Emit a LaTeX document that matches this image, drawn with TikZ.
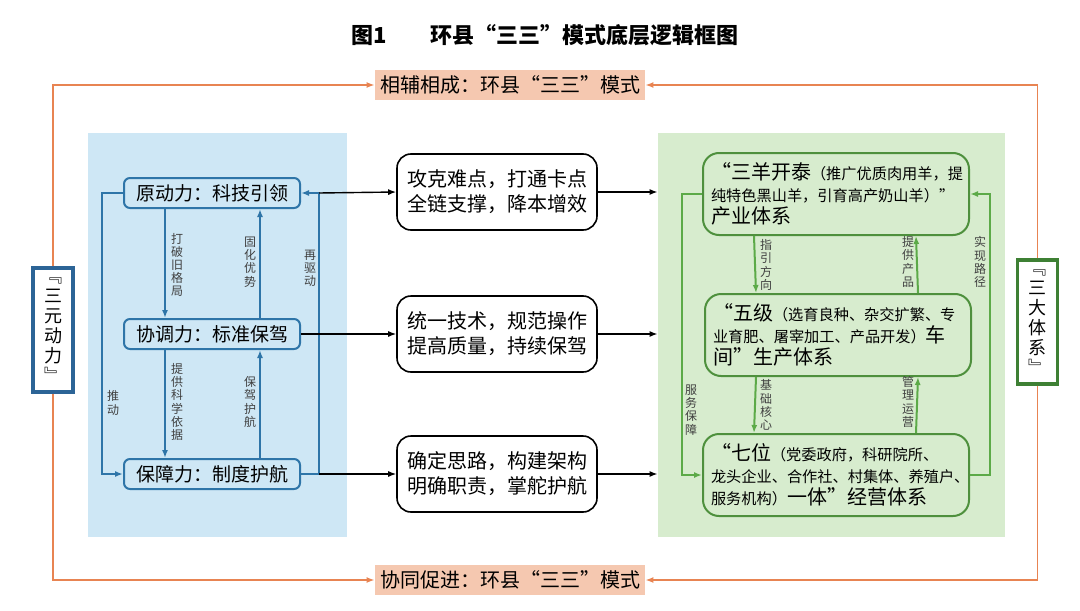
\documentclass[tikz,border=0pt]{standalone}
\usepackage{fontspec}
\setmainfont{Noto Sans CJK SC}
\usetikzlibrary{arrows.meta}

\definecolor{panelblue}{RGB}{206,231,245}
\definecolor{lineblue}{RGB}{46,117,168}
\definecolor{darkblue}{RGB}{44,100,150}
\definecolor{panelgreen}{RGB}{215,236,206}
\definecolor{linegreen}{RGB}{92,170,72}
\definecolor{darkgreen}{RGB}{62,128,52}
\definecolor{lineorange}{RGB}{232,132,82}
\definecolor{fillorange}{RGB}{245,200,176}

\tikzset{
  panel/.style={draw=none, inner sep=0pt},
  bluebox/.style={draw=lineblue, line width=1pt, rounded corners=3pt, fill=panelblue,
    minimum width=88pt, minimum height=15pt, inner sep=1pt, font=\fontsize{9.5}{11}\selectfont},
  midbox/.style={draw=black, line width=0.8pt, rounded corners=7pt, fill=white,
    minimum width=100pt, minimum height=38pt, align=center, font=\fontsize{10}{12.5}\selectfont},
  greenbox/.style={draw=linegreen!85!black, line width=1pt, rounded corners=8pt,
    text width=125pt, inner sep=4pt, minimum height=41pt, align=left,
    font=\fontsize{10}{11}\selectfont},
  tagbox/.style={fill=fillorange, minimum width=135pt, minimum height=15pt, inner sep=1pt,
    font=\fontsize{10}{12}\selectfont},
  sidebox/.style={fill=white, line width=1.6pt, minimum width=20pt, minimum height=62pt,
    inner sep=1pt, align=center, font=\fontsize{9}{10}\selectfont},
  vlabel/.style={inner sep=1pt, align=center, text=black!75, font=\fontsize{6}{6.6}\selectfont},
  bluearrow/.style={draw=lineblue, line width=1pt, -{Latex[length=4pt,width=3pt]}},
  greenarrow/.style={draw=linegreen, line width=1pt, -{Latex[length=4pt,width=3pt]}},
  blackarrow/.style={draw=black, line width=0.7pt, -{Latex[length=4pt,width=3pt]}},
  orangeline/.style={draw=lineorange, line width=0.9pt, -{Latex[length=4pt,width=3pt]}},
}
\newcommand{\sm}[1]{{\fontsize{7.6}{11}\selectfont #1}}

\begin{document}
\begin{tikzpicture}[x=0.5pt,y=-0.5pt]
  \useasboundingbox (0,0) rectangle (1080,610);

  % title
  \node[font=\fontsize{11}{13}\selectfont\bfseries] (title) at (545,35) {图1\quad\quad 环县“三三”模式底层逻辑框图};

  % panels
  \node[panel, fill=panelblue, minimum width=129.5pt, minimum height=202pt] (bluepanel) at (217.5,335) {};
  \node[panel, fill=panelgreen, minimum width=173.5pt, minimum height=202pt] (greenpanel) at (831.5,335) {};

  % orange frame
  \node[tagbox] (topbox) at (510,85) {相辅相成：环县“三三”模式};
  \node[tagbox] (bottombox) at (510,580) {协同促进：环县“三三”模式};
  \node[sidebox, draw=darkblue] (leftbox) at (53,330) {﹃\\三\\元\\动\\力\\﹄};
  \node[sidebox, draw=darkgreen] (rightbox) at (1037.5,322) {﹃\\三\\大\\体\\系\\﹄};

  \draw[orangeline] (leftbox.north) |- (topbox.west);
  \draw[orangeline] (rightbox.north) |- (topbox.east);
  \draw[orangeline] (leftbox.south) |- (bottombox.west);
  \draw[orangeline] (rightbox.south) |- (bottombox.east);

  % three forces
  \node[bluebox] (yuan) at (212,193) {原动力：科技引领};
  \node[bluebox] (xie) at (212,334) {协调力：标准保驾};
  \node[bluebox] (bao) at (212,474) {保障力：制度护航};

  \draw[bluearrow] ([xshift=-23.5pt]yuan.south) -- ([xshift=-23.5pt]xie.north);
  \draw[bluearrow] ([xshift=24pt]xie.north) -- ([xshift=24pt]yuan.south);
  \draw[bluearrow] ([xshift=-23.5pt]xie.south) -- ([xshift=-23.5pt]bao.north);
  \draw[bluearrow] ([xshift=24pt]bao.north) -- ([xshift=24pt]xie.south);
  \draw[bluearrow] (yuan.west) -- ++(-10.5pt,0) |- (bao.west);
  \draw[bluearrow] (bao.east) -- ++(9pt,0) |- (yuan.east);

  \node[vlabel] (dapo) at (177,265) {打\\破\\旧\\格\\局};
  \node[vlabel] (guhua) at (250,262) {固\\化\\优\\势};
  \node[vlabel] (tigong) at (177,402) {提\\供\\科\\学\\依\\据};
  \node[vlabel] (baojia) at (250,402) {保\\驾\\护\\航};
  \node[vlabel] (tuidong) at (113,403) {推\\动};
  \node[vlabel] (zaiqu) at (310,268) {再\\驱\\动};

  % middle measures
  \node[midbox] (mid1) at (497,192) {攻克难点，打通卡点\\全链支撑，降本增效};
  \node[midbox] (mid2) at (497,334) {统一技术，规范操作\\提高质量，持续保驾};
  \node[midbox] (mid3) at (497,474) {确定思路，构建架构\\明确职责，掌舵护航};

  \draw[blackarrow] ([xshift=9pt]yuan.east) -- (mid1.west);
  \draw[blackarrow] (xie.east) -- (mid2.west);
  \draw[blackarrow] ([xshift=9pt]bao.east) -- (mid3.west);
  \draw[blackarrow] (mid1.east) -- (mid1.east -| greenpanel.west);
  \draw[blackarrow] (mid2.east) -- (mid2.east -| greenpanel.west);
  \draw[blackarrow] (mid3.east) -- (mid3.east -| greenpanel.west);

  % three systems
  \node[greenbox] (sanyang) at (836,194) {“三羊开泰\sm{（推广优质肉用羊，提}\\\sm{纯特色黑山羊，引育高产奶山羊）”}\\产业体系};
  \node[greenbox] (wuji) at (838,335) {“五级\sm{（选育良种、杂交扩繁、专}\\\sm{业育肥、屠宰加工、产品开发）}车\\间”生产体系};
  \node[greenbox] (qiwei) at (836,475) {“七位\sm{（党委政府，科研院所、}\\\sm{龙头企业、合作社、村集体、养殖户、}\\\sm{服务机构）}一体”经营体系};

  \draw[greenarrow] ([xshift=-41pt]sanyang.south) -- ([xshift=-41pt]wuji.north);
  \draw[greenarrow] ([xshift=40pt]wuji.north) -- ([xshift=40pt]sanyang.south);
  \draw[greenarrow] ([xshift=-41pt]wuji.south) -- ([xshift=-41pt]qiwei.north);
  \draw[greenarrow] ([xshift=40pt]qiwei.north) -- ([xshift=40pt]wuji.south);
  \draw[greenarrow] (sanyang.west) -- ++(-10pt,0) |- (qiwei.west);
  \draw[greenarrow] (qiwei.east) -- ++(10pt,0) |- (sanyang.east);

  \node[vlabel] (zhiyin) at (766,265) {指\\引\\方\\向};
  \node[vlabel] (chanpin) at (908,262) {提\\供\\产\\品};
  \node[vlabel] (jichu) at (766,405) {基\\础\\核\\心};
  \node[vlabel] (guanli) at (908,402) {管\\理\\运\\营};
  \node[vlabel] (fuwu) at (691,410) {服\\务\\保\\障};
  \node[vlabel] (shixian) at (980,262) {实\\现\\路\\径};
\end{tikzpicture}
\end{document}
